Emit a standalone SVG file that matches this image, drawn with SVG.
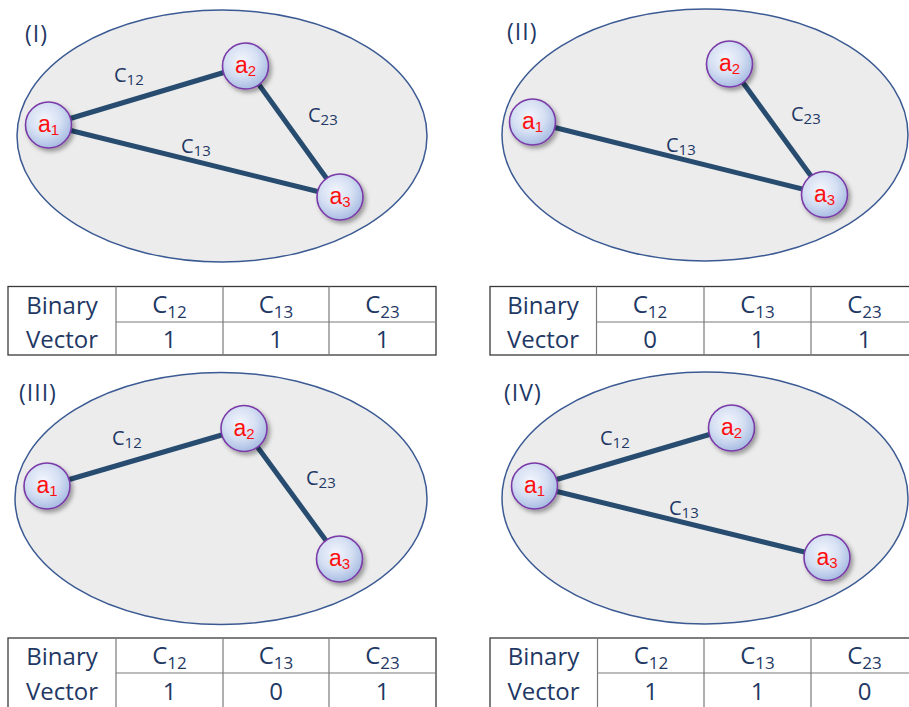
<svg xmlns="http://www.w3.org/2000/svg" width="909" height="707" viewBox="0 0 909 707">
<defs>
<radialGradient id="ng" cx="0.42" cy="0.38" r="0.62">
<stop offset="0" stop-color="#f2f5fc"/>
<stop offset="0.55" stop-color="#d6e0f3"/>
<stop offset="1" stop-color="#a9bde3"/>
</radialGradient>
<filter id="sh" x="-30%" y="-30%" width="170%" height="170%">
<feDropShadow dx="2.5" dy="3" stdDeviation="2" flood-color="#000" flood-opacity="0.35"/>
</filter>
</defs>
<style>
.ell{fill:#ececec;stroke:#3b5a93;stroke-width:1.5}
.edge{stroke:#274c6f;stroke-width:5;stroke-linecap:butt}
.nc{fill:url(#ng);stroke:#7a3aa8;stroke-width:1.6;filter:url(#sh)}
.nt{font-family:"Liberation Sans",Arial,sans-serif;font-size:23px;fill:#ff1010;text-anchor:middle}
.ns{font-size:15px}
.el{font-family:"Open Sans",Lato,sans-serif;font-size:20px;fill:#1f3864}
.es{font-size:15px}
.pl{font-family:"Open Sans",Lato,sans-serif;font-size:23px;fill:#1f3864;letter-spacing:1px}
.tb{fill:#fff;stroke:#3a3a3a;stroke-width:1.3}
.tl{stroke:#7a7a7a;stroke-width:1.2}
.tt{font-family:"Open Sans",Lato,sans-serif;font-size:24px;fill:#1f3864;text-anchor:middle}
.ts{font-size:17px}
</style>

<!-- Panel backgrounds -->
<g id="panel-I"><ellipse class="ell" cx="222" cy="136" rx="205" ry="126"/><text class="pl" x="25" y="42">(I)</text></g>
<g id="panel-II"><ellipse class="ell" cx="705" cy="135" rx="203" ry="126"/><text class="pl" x="507" y="40">(II)</text></g>
<g id="panel-III"><ellipse class="ell" cx="221" cy="498.5" rx="206" ry="126"/><text class="pl" x="19" y="401">(III)</text></g>
<g id="panel-IV"><ellipse class="ell" cx="705" cy="498" rx="203" ry="126"/><text class="pl" x="504" y="401">(IV)</text></g>

<!-- Connectors -->
<g id="connectors">
<line class="edge" x1="48.5" y1="125" x2="245.5" y2="66"/>
<line class="edge" x1="245.5" y1="66" x2="340" y2="197"/>
<line class="edge" x1="48.5" y1="125" x2="340" y2="197"/>
<line class="edge" x1="729.5" y1="64" x2="824.5" y2="194.5"/>
<line class="edge" x1="532.5" y1="122" x2="824.5" y2="194.5"/>
<line class="edge" x1="47" y1="486" x2="244" y2="428.5"/>
<line class="edge" x1="244" y1="428.5" x2="339.5" y2="559"/>
<line class="edge" x1="534.5" y1="486" x2="731.5" y2="428"/>
<line class="edge" x1="534.5" y1="486" x2="827" y2="557.5"/>
</g>

<!-- Edge labels -->
<g id="edge-labels">
<text class="el" x="114" y="82">C<tspan class="es" dy="3">12</tspan></text>
<text class="el" x="308" y="122">C<tspan class="es" dy="3">23</tspan></text>
<text class="el" x="181" y="153">C<tspan class="es" dy="3">13</tspan></text>
<text class="el" x="791" y="121">C<tspan class="es" dy="3">23</tspan></text>
<text class="el" x="666" y="152">C<tspan class="es" dy="3">13</tspan></text>
<text class="el" x="112" y="445">C<tspan class="es" dy="3">12</tspan></text>
<text class="el" x="306" y="485">C<tspan class="es" dy="3">23</tspan></text>
<text class="el" x="600" y="445">C<tspan class="es" dy="3">12</tspan></text>
<text class="el" x="669" y="515">C<tspan class="es" dy="3">13</tspan></text>
</g>

<!-- Nodes -->
<g id="I-a1"><circle class="nc" cx="48.5" cy="125" r="23"/><text class="nt" x="48.5" y="132">a<tspan class="ns" dy="3">1</tspan></text></g>
<g id="I-a2"><circle class="nc" cx="245.5" cy="66" r="23"/><text class="nt" x="245.5" y="73">a<tspan class="ns" dy="3">2</tspan></text></g>
<g id="I-a3"><circle class="nc" cx="340" cy="197" r="23"/><text class="nt" x="340" y="204">a<tspan class="ns" dy="3">3</tspan></text></g>

<g id="II-a1"><circle class="nc" cx="532.5" cy="122" r="23"/><text class="nt" x="532.5" y="129">a<tspan class="ns" dy="3">1</tspan></text></g>
<g id="II-a2"><circle class="nc" cx="729.5" cy="64" r="23"/><text class="nt" x="729.5" y="71">a<tspan class="ns" dy="3">2</tspan></text></g>
<g id="II-a3"><circle class="nc" cx="824.5" cy="194.5" r="23"/><text class="nt" x="824.5" y="201.5">a<tspan class="ns" dy="3">3</tspan></text></g>

<g id="III-a1"><circle class="nc" cx="47" cy="486" r="23"/><text class="nt" x="47" y="493">a<tspan class="ns" dy="3">1</tspan></text></g>
<g id="III-a2"><circle class="nc" cx="244" cy="428.5" r="23"/><text class="nt" x="244" y="435.5">a<tspan class="ns" dy="3">2</tspan></text></g>
<g id="III-a3"><circle class="nc" cx="339.5" cy="559" r="23"/><text class="nt" x="339.5" y="566">a<tspan class="ns" dy="3">3</tspan></text></g>

<g id="IV-a1"><circle class="nc" cx="534.5" cy="486" r="23"/><text class="nt" x="534.5" y="493">a<tspan class="ns" dy="3">1</tspan></text></g>
<g id="IV-a2"><circle class="nc" cx="731.5" cy="428" r="23"/><text class="nt" x="731.5" y="435">a<tspan class="ns" dy="3">2</tspan></text></g>
<g id="IV-a3"><circle class="nc" cx="827" cy="557.5" r="23"/><text class="nt" x="827" y="564.5">a<tspan class="ns" dy="3">3</tspan></text></g>

<!-- Tables -->
<g id="table-I">
<rect class="tb" x="8" y="286.5" width="428" height="68.5"/>
<line class="tl" x1="116" y1="286.5" x2="116" y2="355"/>
<line class="tl" x1="223" y1="286.5" x2="223" y2="355"/>
<line class="tl" x1="329" y1="286.5" x2="329" y2="355"/>
<line class="tl" x1="116" y1="322" x2="436" y2="322"/>
<text class="tt" x="62" y="314">Binary</text>
<text class="tt" x="62" y="348">Vector</text>
<text class="tt" x="169.5" y="313">C<tspan class="ts" dy="5">12</tspan></text>
<text class="tt" x="276" y="313">C<tspan class="ts" dy="5">13</tspan></text>
<text class="tt" x="382.5" y="313">C<tspan class="ts" dy="5">23</tspan></text>
<text class="tt" x="169.5" y="348">1</text>
<text class="tt" x="276" y="348">1</text>
<text class="tt" x="382.5" y="348">1</text>
</g>

<g id="table-II">
<rect class="tb" x="490" y="286.5" width="430" height="68.5"/>
<line class="tl" x1="596.5" y1="286.5" x2="596.5" y2="355"/>
<line class="tl" x1="704" y1="286.5" x2="704" y2="355"/>
<line class="tl" x1="811" y1="286.5" x2="811" y2="355"/>
<line class="tl" x1="596.5" y1="322" x2="920" y2="322"/>
<text class="tt" x="543" y="314">Binary</text>
<text class="tt" x="543" y="348">Vector</text>
<text class="tt" x="650" y="313">C<tspan class="ts" dy="5">12</tspan></text>
<text class="tt" x="757.5" y="313">C<tspan class="ts" dy="5">13</tspan></text>
<text class="tt" x="864.5" y="313">C<tspan class="ts" dy="5">23</tspan></text>
<text class="tt" x="650" y="348">0</text>
<text class="tt" x="757.5" y="348">1</text>
<text class="tt" x="864.5" y="348">1</text>
</g>

<g id="table-III">
<rect class="tb" x="8" y="638" width="428" height="75"/>
<line class="tl" x1="116" y1="638" x2="116" y2="710"/>
<line class="tl" x1="223" y1="638" x2="223" y2="710"/>
<line class="tl" x1="329" y1="638" x2="329" y2="710"/>
<line class="tl" x1="116" y1="673" x2="436" y2="673"/>
<text class="tt" x="62" y="665">Binary</text>
<text class="tt" x="62" y="700">Vector</text>
<text class="tt" x="169.5" y="664">C<tspan class="ts" dy="5">12</tspan></text>
<text class="tt" x="276" y="664">C<tspan class="ts" dy="5">13</tspan></text>
<text class="tt" x="382.5" y="664">C<tspan class="ts" dy="5">23</tspan></text>
<text class="tt" x="169.5" y="700">1</text>
<text class="tt" x="276" y="700">0</text>
<text class="tt" x="382.5" y="700">1</text>
</g>

<g id="table-IV">
<rect class="tb" x="490" y="638" width="430" height="75"/>
<line class="tl" x1="597.5" y1="638" x2="597.5" y2="710"/>
<line class="tl" x1="704" y1="638" x2="704" y2="710"/>
<line class="tl" x1="811" y1="638" x2="811" y2="710"/>
<line class="tl" x1="597.5" y1="673" x2="920" y2="673"/>
<text class="tt" x="543.5" y="665">Binary</text>
<text class="tt" x="543.5" y="700">Vector</text>
<text class="tt" x="651" y="664">C<tspan class="ts" dy="5">12</tspan></text>
<text class="tt" x="757.5" y="664">C<tspan class="ts" dy="5">13</tspan></text>
<text class="tt" x="864.5" y="664">C<tspan class="ts" dy="5">23</tspan></text>
<text class="tt" x="651" y="700">1</text>
<text class="tt" x="757.5" y="700">1</text>
<text class="tt" x="864.5" y="700">0</text>
</g>
</svg>
